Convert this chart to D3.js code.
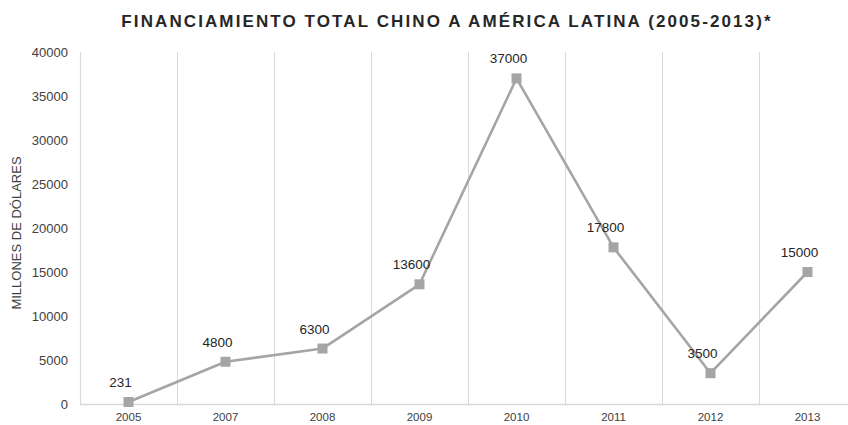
<!DOCTYPE html>
<html>
<head>
<meta charset="utf-8">
<script src="https://cdn.jsdelivr.net/npm/d3@7/dist/d3.min.js"></script>
<style>
  html, body { margin: 0; padding: 0; background: #fff; }
  svg { display: block; }
</style>
</head>
<body>
<svg id="chart" width="848" height="425"></svg>
<script>
// Chinese financing to Latin America, millions of US dollars
const years = ["2005", "2007", "2008", "2009", "2010", "2011", "2012", "2013"];
const amounts = [231, 4800, 6300, 13600, 37000, 17800, 3500, 15000];
const yTicks = [0, 5000, 10000, 15000, 20000, 25000, 30000, 35000, 40000];

const titleText = "FINANCIAMIENTO TOTAL CHINO A AMÉRICA LATINA (2005-2013)*";
const yAxisTitle = "MILLONES DE DÓLARES";

const W = 848, H = 425;
const margin = { top: 52, right: -8, bottom: 21, left: 80 };
const svg = d3.select("#chart");
const font = "Liberation Sans, Arial, Helvetica, sans-serif";
const lineColor = "#a5a5a5";

const x = d3.scaleBand().domain(years).range([margin.left, W - margin.right]).padding(0);
const y = d3.scaleLinear().domain([0, 40000]).range([H - margin.bottom, margin.top]);

// Title
svg.append("text")
  .attr("x", 447).attr("y", 27)
  .attr("text-anchor", "middle")
  .attr("font-family", font)
  .attr("font-weight", "bold")
  .attr("font-size", 17)
  .attr("letter-spacing", 2.1)
  .attr("fill", "#262626")
  .text(titleText);

// Category separators (vertical gridlines between bands)
svg.append("g")
  .selectAll("line")
  .data(years.slice(1))
  .join("line")
  .attr("x1", d => Math.round(x(d)) + 0.5)
  .attr("x2", d => Math.round(x(d)) + 0.5)
  .attr("y1", y(40000))
  .attr("y2", y(0))
  .attr("stroke", "#d9d9d9")
  .attr("stroke-width", 1);

// Left axis line
svg.append("line")
  .attr("x1", margin.left + 0.5).attr("x2", margin.left + 0.5)
  .attr("y1", y(40000)).attr("y2", y(0))
  .attr("stroke", "#d9d9d9").attr("stroke-width", 1.2);

// Y axis
const yAxis = svg.append("g")
  .attr("transform", `translate(${margin.left},0)`)
  .call(d3.axisLeft(y).tickValues(yTicks).tickSize(0).tickPadding(12).tickFormat(d3.format("d")));
yAxis.select(".domain").remove();
yAxis.selectAll("text")
  .attr("font-family", font)
  .attr("font-size", 13)
  .attr("fill", "#404040");

// X axis
const xAxis = svg.append("g")
  .attr("transform", `translate(0,${y(0)})`)
  .call(d3.axisBottom(x).tickSize(0).tickPadding(9));
xAxis.select(".domain")
  .attr("stroke", "#d9d9d9")
  .attr("stroke-width", 1.5)
  .attr("d", `M${margin.left},0.5H${W}`);
xAxis.selectAll("text")
  .attr("font-family", font)
  .attr("font-size", 11.5)
  .attr("fill", "#404040");

// Y axis title
svg.append("text")
  .attr("transform", `translate(21,${(y(0) + y(40000)) / 2 + 5}) rotate(-90)`)
  .attr("text-anchor", "middle")
  .attr("font-family", font)
  .attr("font-size", 13)
  .attr("fill", "#404040")
  .text(yAxisTitle);

const pts = years.map((yr, i) => ({ yr, v: amounts[i] }));
const cx = d => x(d.yr) + x.bandwidth() / 2;

// Series line
svg.append("path")
  .datum(pts)
  .attr("fill", "none")
  .attr("stroke", lineColor)
  .attr("stroke-width", 2.6)
  .attr("stroke-linejoin", "round")
  .attr("d", d3.line().x(cx).y(d => y(d.v)));

// Square markers
const m = 10;
svg.append("g")
  .selectAll("rect")
  .data(pts)
  .join("rect")
  .attr("x", d => cx(d) - m / 2)
  .attr("y", d => y(d.v) - m / 2)
  .attr("width", m).attr("height", m)
  .attr("fill", lineColor);

// Value labels
svg.append("g")
  .selectAll("text")
  .data(pts)
  .join("text")
  .attr("x", d => cx(d) - 8)
  .attr("y", d => y(d.v) - 15)
  .attr("text-anchor", "middle")
  .attr("font-family", font)
  .attr("font-size", 13.5)
  .attr("fill", "#262626")
  .text(d => d.v);
</script>
</body>
</html>
